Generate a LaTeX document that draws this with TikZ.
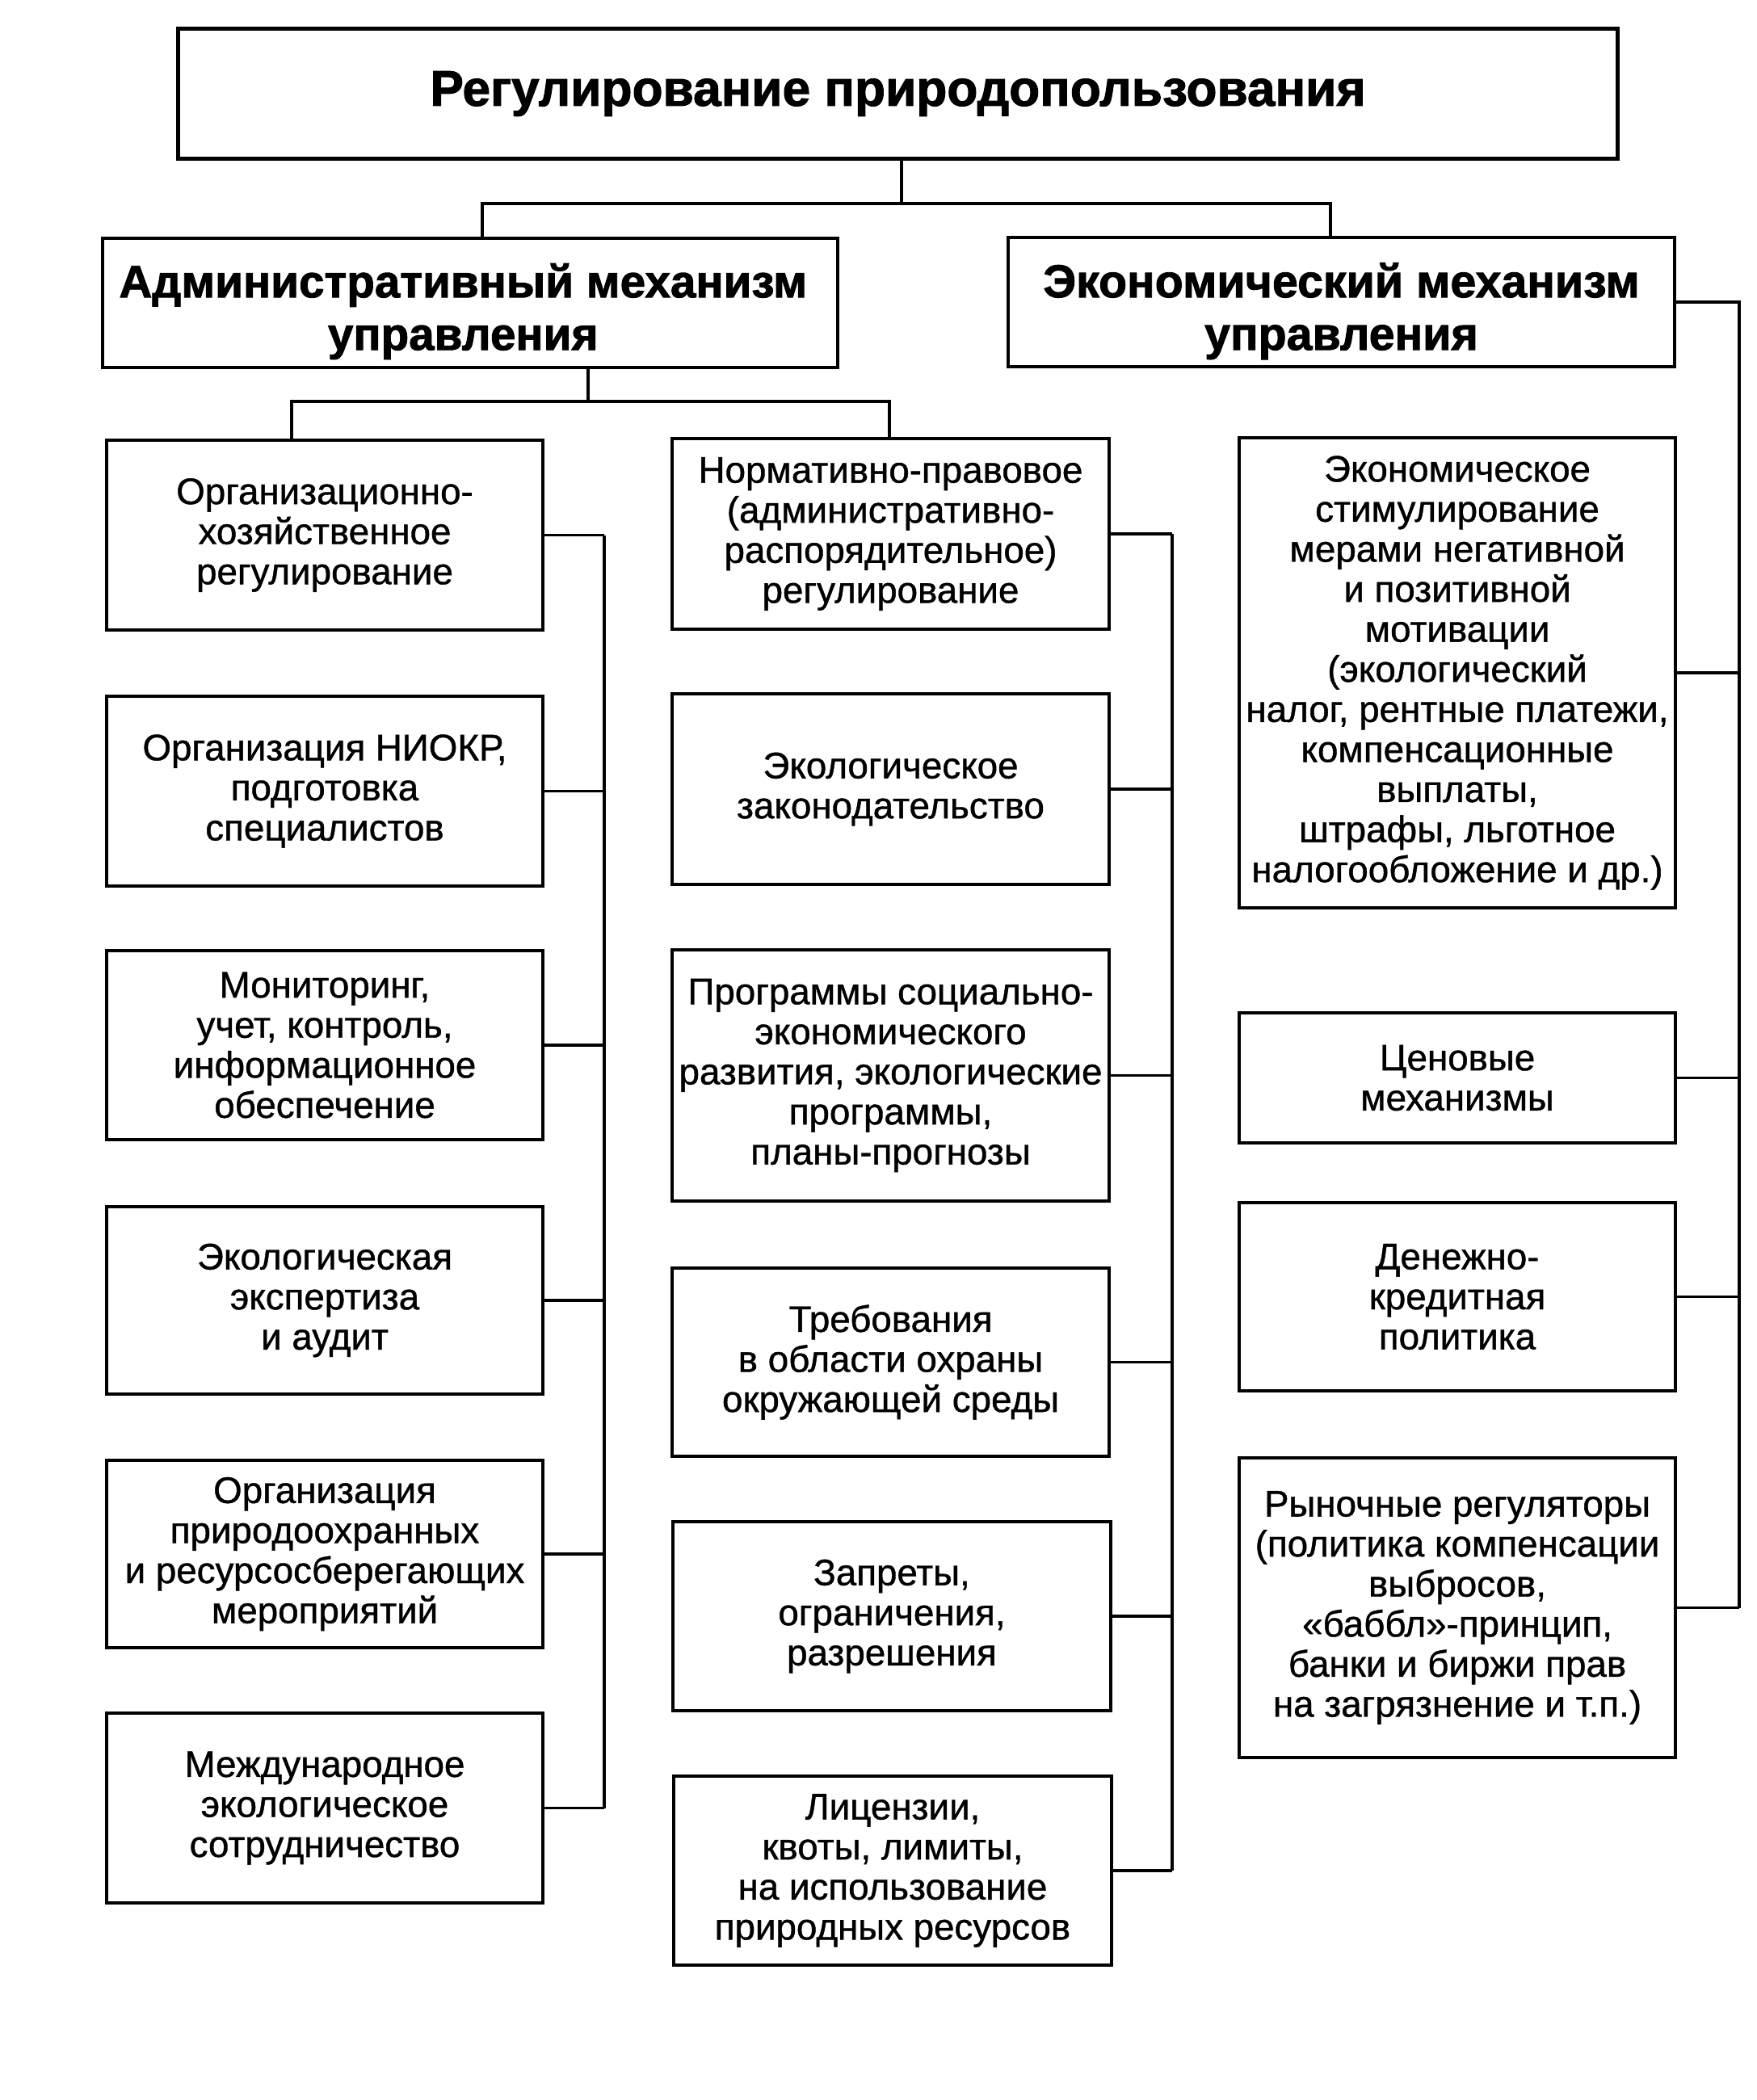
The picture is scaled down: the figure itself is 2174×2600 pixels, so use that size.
\documentclass[tikz,border=0pt]{standalone}
\usepackage{fontspec}
\setmainfont{Liberation Sans}
\newfontfamily\bodyfont[FakeBold=0.9]{Liberation Sans}
\newfontfamily\headfont[FakeBold=1.6]{Liberation Sans Bold}
\begin{document}
\begin{tikzpicture}[x=0.01cm,y=-0.01cm,
  box/.style={draw, line width=1.1pt, align=center, inner sep=0pt,
    font=\bodyfont\fontsize{13}{14.1}\selectfont},
  headtext/.style={align=center, inner sep=0pt, font=\headfont\fontsize{16.3}{18.5}\selectfont},
  lbox/.style={box, minimum width=54mm},
  mbox/.style={box, minimum width=54.1mm},
  rbox/.style={box, minimum width=54mm},
  conn/.style={line width=0.9pt}]
\useasboundingbox (0,0) rectangle (2174,2600);

% top
\node[box, line width=1.4pt, minimum width=178.1mm, minimum height=16mm,
  font=\headfont\fontsize{17.7}{20}\selectfont] (top) at (1111.5,116) {Регулирование природопользования};

% second level
\node[box, minimum width=91mm, minimum height=16mm] (admin) at (582,375) {};
\node[headtext, font=\headfont\fontsize{16.1}{18.5}\selectfont] (admintxt) at ([xshift=-2.5pt,yshift=-3pt]admin.center)
  {Административный механизм\\управления};
\node[box, minimum width=82.5mm, minimum height=16mm] (econ) at (1660.5,374) {};
\node[headtext] (econtxt) at ([yshift=-3.2pt]econ.center)
  {Экономический механизм\\управления};

% left column
\node[lbox, minimum height=23.5mm] (L1) at (402,662.5) {Организационно-\\хозяйственное\\регулирование};
\node[lbox, minimum height=23.5mm] (L2) at (402,979.5) {Организация НИОКР,\\подготовка\\специалистов};
\node[lbox, minimum height=23.4mm] (L3) at (402,1294) {Мониторинг,\\учет, контроль,\\информационное\\обеспечение};
\node[lbox, minimum height=23.2mm] (L4) at (402,1610) {Экологическая\\экспертиза\\и аудит};
\node[lbox, minimum height=23.2mm] (L5) at (402,1924) {Организация\\природоохранных\\и ресурсосберегающих\\мероприятий};
\node[lbox, minimum height=23.5mm] (L6) at (402,2238.5) {Международное\\экологическое\\сотрудничество};

% middle column
\node[mbox, minimum height=23.6mm] (M1) at (1102.5,661) {Нормативно-правовое\\(административно-\\распорядительное)\\регулирование};
\node[mbox, minimum height=23.6mm] (M2) at (1102.5,977) {Экологическое\\законодательство};
\node[mbox, minimum height=31.1mm] (M3) at (1102.5,1331.5) {Программы социально-\\экономического\\развития, экологические\\программы,\\планы-прогнозы};
\node[mbox, minimum height=23.3mm] (M4) at (1102.5,1686.5) {Требования\\в области охраны\\окружающей среды};
\node[mbox, minimum height=23.4mm] (M5) at (1104,2001) {Запреты,\\ограничения,\\разрешения};
\node[mbox, minimum height=23.4mm] (M6) at (1105,2316) {Лицензии,\\квоты, лимиты,\\на использование\\природных ресурсов};

% right column
\node[rbox, minimum height=58.2mm] (R1) at (1804,833) {Экономическое\\стимулирование\\мерами негативной\\и позитивной\\мотивации\\(экологический\\налог, рентные платежи,\\компенсационные\\выплаты,\\штрафы, льготное\\налогообложение и др.)};
\node[rbox, minimum height=16.1mm] (R2) at (1804,1334.5) {Ценовые\\механизмы};
\node[rbox, minimum height=23.3mm] (R3) at (1804,1605.5) {Денежно-\\кредитная\\политика};
\node[rbox, minimum height=37.1mm] (R4) at (1804,1990.5) {Рыночные регуляторы\\(политика компенсации\\выбросов,\\«баббл»-принцип,\\банки и биржи прав\\на загрязнение и т.п.)};

% junction coordinates
\coordinate (jt) at (1116,252);
\coordinate (jl) at (597,252);
\coordinate (jr) at (1647,252);
\coordinate (ja) at (728,497);
\coordinate (ja1) at (361,497);
\coordinate (ja2) at (1101,497);
\coordinate (bl) at (748,0);
\coordinate (bm) at (1451,0);
\coordinate (br) at (2153,0);

% top connectors
\draw[conn] (top.south -| jt) -- (jt);
\draw[conn] (admin.north -| jl) -- (jl) -- (jr) -- (econ.north -| jr);
\draw[conn] (admin.south -| ja) -- (ja);
\draw[conn] (L1.north -| ja1) -- (ja1) -- (ja2) -- (M1.north -| ja2);

% left bus
\draw[conn] (L1.east -| bl) -- (L6.east -| bl);
\foreach \n in {L1,L2,L3,L4,L5,L6} \draw[conn] (\n.east) -- (\n.east -| bl);

% middle bus
\draw[conn] (M1.east -| bm) -- (M6.east -| bm);
\foreach \n in {M1,M2,M3,M4,M5,M6} \draw[conn] (\n.east) -- (\n.east -| bm);

% right bus
\draw[conn] (econ.east) -- (econ.east -| br) -- (R4.east -| br);
\foreach \n in {R1,R2,R3,R4} \draw[conn] (\n.east) -- (\n.east -| br);
\end{tikzpicture}
\end{document}
